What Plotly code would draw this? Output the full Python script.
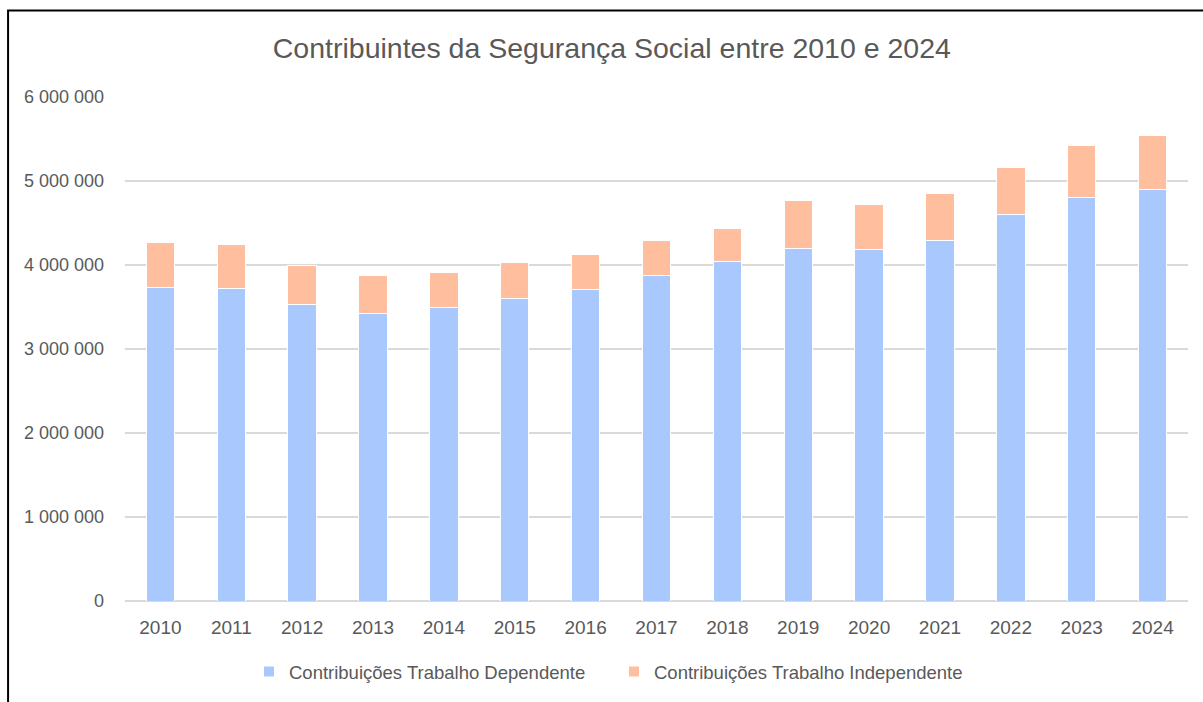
import plotly.graph_objects as go

years = ["2010", "2011", "2012", "2013", "2014", "2015", "2016", "2017",
         "2018", "2019", "2020", "2021", "2022", "2023", "2024"]
dependente = [3738000, 3726000, 3532000, 3421000, 3493000, 3600000, 3707000, 3874000,
              4040000, 4202000, 4179000, 4286000, 4600000, 4806000, 4901000]
total = [4270000, 4246000, 4000000, 3874000, 3913000, 4024000, 4124000, 4286000,
         4437000, 4770000, 4723000, 4850000, 5163000, 5425000, 5536000]
independente = [t - d for t, d in zip(total, dependente)]

name_dep = "Contribuições Trabalho Dependente"
name_ind = "Contribuições Trabalho Independente"
title = "Contribuintes da Segurança Social entre 2010 e 2024"
y_ticks = [0, 1000000, 2000000, 3000000, 4000000, 5000000, 6000000]
y_labels = ["0", "1 000 000", "2 000 000", "3 000 000", "4 000 000", "5 000 000", "6 000 000"]

TXT = "#595959"
FONT = "Liberation Sans"

fig = go.Figure()
fig.add_trace(go.Bar(x=years, y=dependente, name=name_dep,
                     marker=dict(color="#A8C8FE", line=dict(color="#FFFFFF", width=1))))
fig.add_trace(go.Bar(x=years, y=independente, name=name_ind,
                     marker=dict(color="#FFBE9D", line=dict(color="#FFFFFF", width=1))))

fig.update_layout(
    barmode="stack",
    bargap=0.6,
    width=1203, height=702,
    margin=dict(l=125, r=15, t=97, b=101, autoexpand=False),
    paper_bgcolor="white", plot_bgcolor="white",
    font=dict(family=FONT, color=TXT, size=18),
    title=dict(text=title, x=0.458, xanchor="center", y=0.931, yanchor="middle",
               xref="paper",
               font=dict(family=FONT, size=28.5, color=TXT)),
    legend=dict(orientation="h", x=0.46, xanchor="center", y=-0.141, yanchor="middle",
                font=dict(family=FONT, size=18.5, color=TXT), traceorder="normal",
                entrywidth=320, itemsizing="constant"),
    showlegend=True,
)
fig.update_xaxes(showgrid=False, showline=False, ticks="", tickfont=dict(size=19, color=TXT),
                 ticklabelstandoff=13)
fig.update_yaxes(range=[0, 6000000], tickvals=y_ticks, ticktext=y_labels,
                 showgrid=True, gridcolor="#D9D9D9", gridwidth=1.5,
                 zeroline=True, zerolinecolor="#D9D9D9", zerolinewidth=1.5,
                 showline=False, ticks="", tickfont=dict(size=18, color=TXT),
                 ticklabelstandoff=20)
fig.add_shape(type="rect", xref="paper", yref="paper",
              x0=-0.110, x1=1.03, y0=-0.25, y1=1.1716,
              line=dict(color="black", width=2), fillcolor="rgba(0,0,0,0)", layer="above")

fig.write_html("out.html", config={"displayModeBar": False},
               post_script="document.body.style.margin='0';")
